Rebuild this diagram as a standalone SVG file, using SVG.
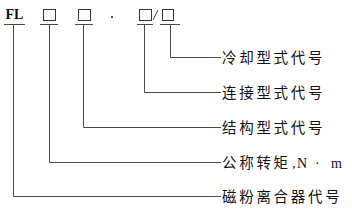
<svg xmlns="http://www.w3.org/2000/svg" width="352" height="210" viewBox="0 0 352 210">
<style>
.ln{fill:none;stroke:#4a4a4a;stroke-width:1}
.bx{fill:none;stroke:#333;stroke-width:1}
.lbl{font-family:"Noto Sans CJK SC","Noto Sans CJK JP",sans-serif;font-size:14.5px;letter-spacing:2.7px;fill:#111}
.lat{font-family:"Liberation Serif",serif;font-size:14px;fill:#111}
.code{font-family:"Liberation Serif",serif;font-weight:bold;font-size:14px;fill:#111}
</style>
<rect width="352" height="210" fill="#fff"/>
<g id="code">
<text class="code" x="5.5" y="19">FL</text>
<line class="ln" x1="4" y1="24.5" x2="25" y2="24.5"/>
<rect class="bx" x="43.5" y="9.5" width="12" height="11"/>
<line class="ln" x1="40" y1="24.5" x2="58" y2="24.5"/>
<rect class="bx" x="78.5" y="9.5" width="12" height="11"/>
<line class="ln" x1="75" y1="24.5" x2="93" y2="24.5"/>
<circle cx="112" cy="17" r="1" fill="#222"/>
<rect class="bx" x="139.5" y="9.5" width="12" height="11"/>
<line class="ln" x1="153" y1="20" x2="158" y2="10"/>
<rect class="bx" x="162.5" y="9.5" width="11" height="11"/>
<line class="ln" x1="137" y1="24.5" x2="153" y2="24.5"/>
<line class="ln" x1="160" y1="24.5" x2="180" y2="24.5"/>
</g>
<g id="connectors">
<polyline class="ln" points="170.5,24.5 170.5,57.5 221,57.5"/>
<polyline class="ln" points="144.5,24.5 144.5,92.5 221,92.5"/>
<polyline class="ln" points="83.5,24.5 83.5,127.5 221,127.5"/>
<polyline class="ln" points="49.5,24.5 49.5,162.5 221,162.5"/>
<polyline class="ln" points="13.5,24.5 13.5,196.5 221,196.5"/>
</g>
<g id="n1"><text class="lbl" x="222" y="62.5">冷却型式代号</text></g>
<g id="n2"><text class="lbl" x="222" y="97.5">连接型式代号</text></g>
<g id="n3"><text class="lbl" x="222" y="132.5">结构型式代号</text></g>
<g id="n4"><text class="lbl" x="222" y="167.5">公称转矩</text><text class="lat" y="167.5"><tspan x="292">,</tspan><tspan x="297">N</tspan><tspan x="315">·</tspan><tspan x="331">m</tspan></text></g>
<g id="n5"><text class="lbl" x="222" y="201.5">磁粉离合器代号</text></g>
</svg>
